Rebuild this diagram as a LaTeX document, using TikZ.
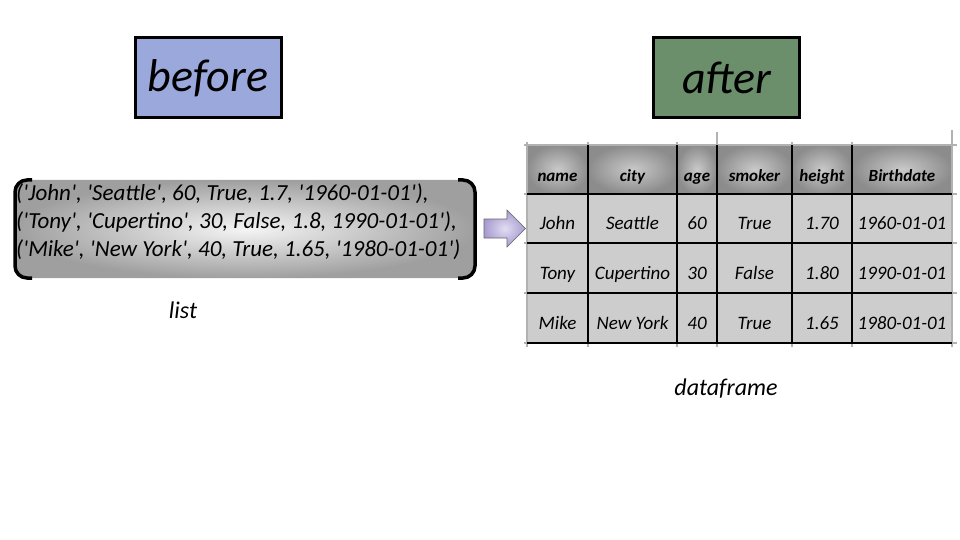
\documentclass[tikz,border=0pt]{standalone}
\usepackage{fontspec}
\setmainfont{Carlito}
\newcommand\sq{\textquotesingle}
\definecolor{beforefill}{HTML}{9AA8DC}
\definecolor{afterfill}{HTML}{6A8F6A}
\definecolor{bodyfill}{HTML}{CDCDCD}
\definecolor{arrowin}{HTML}{E2DDF2}
\definecolor{arrowout}{HTML}{A79BD0}
\begin{document}
\begin{tikzpicture}[x=1pt,y=-1pt,
  fixh/.style={text height=0.72em, text depth=0.22em},
  titlebox/.style={draw=black, line width=3pt, minimum width=146pt, minimum height=80pt,
    font=\itshape\fontsize{46}{50}\selectfont, inner sep=0pt},
  hdr/.style={fixh, font=\bfseries\itshape\fontsize{17}{20}\selectfont, inner sep=0pt},
  cell/.style={fixh, font=\itshape\fontsize{19}{22}\selectfont, inner sep=0pt},
  lbl/.style={fixh, font=\itshape\fontsize{24}{28}\selectfont, inner sep=0pt},
  bracket/.style={draw=black, line width=3.5pt, rounded corners=12pt},
  sketch/.style={draw=gray!60, line width=1.6pt},
  grid/.style={draw=black, line width=1.1pt}]
\useasboundingbox (0,0) rectangle (960,540);

% title boxes
\node[titlebox, fill=beforefill] (before) at (208,78) {before};
\node[titlebox, fill=afterfill] (after) at (726.5,78) {after};

% list box
\shade[inner color=gray!8, outer color=gray!75, rounded corners=14pt] (15,180) rectangle (475,278);
\draw[bracket] (32,180) -- (15,180) -- (15,278) -- (32,278);
\draw[bracket] (458,180) -- (475,180) -- (475,278) -- (458,278);
\node[anchor=west, align=left, font=\itshape\fontsize{23}{28}\selectfont, inner sep=0pt] (listtext) at (16,222)
  {(\sq John\sq, \sq Seattle\sq, 60, True, 1.7, \sq1960-01-01\sq),\\
   (\sq Tony\sq, \sq Cupertino\sq, 30, False, 1.8, 1990-01-01\sq),\\
   (\sq Mike\sq, \sq New York\sq, 40, True, 1.65, \sq1980-01-01\sq)};
\node[lbl] (listlbl) at (183,316) {list};

% arrow
\shade[inner color=arrowin, outer color=arrowout, draw=gray!80!black, line width=0.6pt]
  (484,219) -- (507,219) -- (507,210) -- (525.5,228.5) -- (507,247) -- (507,238) -- (484,238) -- cycle;

% table fills
\fill[bodyfill] (527,194) rectangle (952,343);
\foreach \a/\b in {527/588, 588/677, 677/717, 717/792, 792/852, 852/952}
  \shade[inner color=gray!42, outer color=gray!90] (\a,145) rectangle (\b,194);

% sketchy overshoot lines
\foreach \x in {527,588,677,717,792,852,952}
  \draw[sketch] (\x,142) -- (\x,347);
\draw[sketch] (717,132) -- (717,145);
\draw[sketch] (952,130) -- (952,145);
\foreach \y in {145,194,243,293,343}
  \draw[sketch] (524,\y) -- (957,\y);
% grid
\foreach \x in {588,677,717,792,852}
  \draw[grid] (\x,145) -- (\x,343);
\foreach \y in {194,243,293,343}
  \draw[grid] (527,\y) -- (952,\y);

% header
\node[hdr] (hname) at (557.5,179) {name};
\node[hdr] (hcity) at (632.5,179) {city};
\node[hdr] (hage) at (697,179) {age};
\node[hdr] (hsmoker) at (754.5,179) {smoker};
\node[hdr] (hheight) at (822,179) {height};
\node[hdr] (hbirth) at (902,179) {Birthdate};

% rows
\node[cell] (r1a) at (557.5,227) {John};
\node[cell] (r1b) at (632.5,227) {Seattle};
\node[cell] (r1c) at (697,227) {60};
\node[cell] (r1d) at (754.5,227) {True};
\node[cell] (r1e) at (822,227) {1.70};
\node[cell] (r1f) at (902,227) {1960-01-01};

\node[cell] (r2a) at (557.5,277) {Tony};
\node[cell] (r2b) at (632.5,277) {Cupertino};
\node[cell] (r2c) at (697,277) {30};
\node[cell] (r2d) at (754.5,277) {False};
\node[cell] (r2e) at (822,277) {1.80};
\node[cell] (r2f) at (902,277) {1990-01-01};

\node[cell] (r3a) at (557.5,327) {Mike};
\node[cell] (r3b) at (632.5,327) {New York};
\node[cell] (r3c) at (697,327) {40};
\node[cell] (r3d) at (754.5,327) {True};
\node[cell] (r3e) at (822,327) {1.65};
\node[cell] (r3f) at (902,327) {1980-01-01};

\node[lbl] (dflbl) at (726,393) {dataframe};
\end{tikzpicture}
\end{document}
